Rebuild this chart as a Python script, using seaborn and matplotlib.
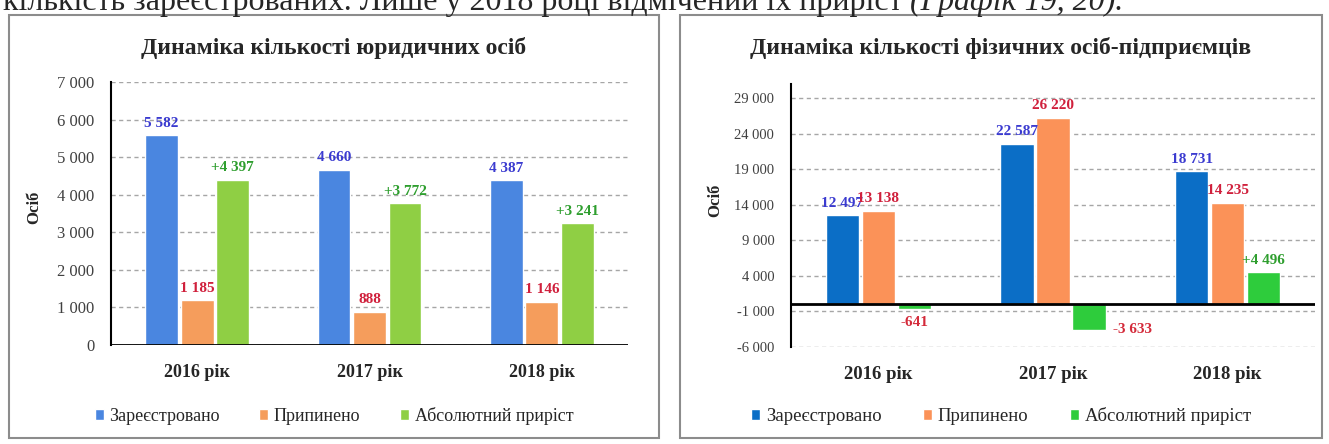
import seaborn as sns
import pandas as pd
import matplotlib.pyplot as plt
from matplotlib.patches import Rectangle
from matplotlib.ticker import FuncFormatter, MultipleLocator

sns.set_style("white")
plt.rcParams['font.family'] = ['Liberation Serif', 'DejaVu Serif']

# Дані
years = ["2016 рік", "2017 рік", "2018 рік"]
series = ["Зареєстровано", "Припинено", "Абсолютний приріст"]

legal_registered = [5582, 4660, 4387]
legal_stopped = [1185, 888, 1146]
legal_growth = [4397, 3772, 3241]

fop_registered = [12497, 22587, 18731]
fop_stopped = [13138, 26220, 14235]
fop_growth = [-641, -3633, 4496]


def make_df(reg, stop, grow):
    df = pd.DataFrame({'рік': years, series[0]: reg, series[1]: stop, series[2]: grow})
    return df.melt(id_vars='рік', var_name='показник', value_name='значення')


def fmt(v, sign=False):
    s = f"{abs(v):,.0f}".replace(",", " ")
    if v < 0:
        return "-" + s
    return ("+" + s) if sign else s


W, H = 1329, 444
fig = plt.figure(figsize=(W / 100, H / 100), dpi=100)

# рамки графіків
for x0, x1 in [(9, 659), (680, 1322)]:
    fig.patches.append(Rectangle((x0 / W, 1 - 438 / H), (x1 - x0) / W, (438 - 15) / H,
                                 transform=fig.transFigure, fill=False,
                                 edgecolor='#8c8c8c', lw=1.5, zorder=0))

# текст документа зверху (обрізаний, як на оригіналі)
t1 = fig.text(3 / W, 1 - 10 / H, "кількість зареєстрованих. Лише у 2018 році відмічений їх приріст ",
              fontsize=23, va='baseline', ha='left')
fig.canvas.draw()
bb = t1.get_window_extent()
fig.text(bb.x1 / W, 1 - 10 / H, "(Графік 19, 20).", fontsize=23, style='italic', va='baseline', ha='left')

label_colors = ['#3b3bd0', '#d0203c', '#2e9e2e']


def draw(ax, data, palette, ylim, step, title, box, fs):
    df = make_df(*data)
    sns.barplot(data=df, x='рік', y='значення', hue='показник', hue_order=series,
                palette=palette, width=0.62, gap=0.08, saturation=1, legend=False, ax=ax, zorder=3)
    ax.set_ylim(*ylim)
    ax.set_xlim(-0.5, 2.5)
    ax.yaxis.set_major_locator(MultipleLocator(step))
    ax.yaxis.set_major_formatter(FuncFormatter(lambda v, p: fmt(v)))
    ax.grid(axis='y', color='#a6a6a6', linestyle=(0, (3, 2.5)), lw=1, zorder=0)
    ax.set_xlabel("")
    ax.set_ylabel("")
    for s in ['top', 'right', 'bottom']:
        ax.spines[s].set_visible(False)
    ax.spines['left'].set_color('black')
    ax.spines['left'].set_linewidth(1.5)
    ax.axhline(0, color='black', lw=2, zorder=4)
    ax.tick_params(axis='y', length=0, labelsize=fs['ytick'], labelcolor='#404040', pad=12)
    ax.tick_params(axis='x', length=0, labelsize=fs['xtick'], pad=14)
    for lab in ax.get_xticklabels():
        lab.set_fontweight('bold')

    for i, cont in enumerate(ax.containers):
        for bar in cont:
            v = bar.get_height()
            cx = bar.get_x() + bar.get_width() / 2
            if v >= 0:
                ax.annotate(fmt(v, sign=(i == 2)), (cx, v), xytext=(0, 4), textcoords='offset points',
                            ha='center', va='bottom', fontsize=fs['value'], fontweight='bold',
                            color=label_colors[i])
            elif v < -1000:
                ax.annotate(fmt(v), (bar.get_x() + bar.get_width(), v), xytext=(5, 0),
                            textcoords='offset points', ha='left', va='center', fontsize=fs['value'],
                            fontweight='bold', color='#d42a3a')
            else:
                ax.annotate(fmt(v), (cx, v), xytext=(0, -5), textcoords='offset points',
                            ha='center', va='top', fontsize=fs['value'], fontweight='bold', color='#d42a3a')

    cxb = (box[0] + box[1]) / 2 / W
    fig.text(cxb, 1 - 48 / H, title, ha='center', va='center', fontsize=fs['title'], fontweight='bold')
    fig.legend(ax.containers, series, loc='center', bbox_to_anchor=(cxb, 1 - 416 / H), ncol=3,
               frameon=False, fontsize=fs['legend'], handlelength=0.5, handleheight=0.5,
               handletextpad=0.3, columnspacing=2.2)


ax1 = fig.add_axes([111 / W, 1 - 345 / H, (628 - 111) / W, (345 - 82) / H])
draw(ax1, (legal_registered, legal_stopped, legal_growth), ['#4a86e0', '#f59d5c', '#8fcf44'],
     (0, 7000), 1000, "Динаміка кількості юридичних осіб", (9, 659),
     dict(ytick=12, xtick=13, value=11, legend=13, title=17))
fig.text(34 / W, 1 - 207 / H, "Осіб", rotation=90, ha='center', va='center', fontsize=12, fontweight='bold')

ax2 = fig.add_axes([791 / W, 1 - 347 / H, (1315 - 791) / W, (347 - 84) / H])
draw(ax2, (fop_registered, fop_stopped, fop_growth), ['#0b6ec6', '#fb9258', '#2ecc3c'],
     (-6050, 31000), 5000, "Динаміка кількості фізичних осіб-підприємців", (680, 1322),
     dict(ytick=10.5, xtick=13.5, value=11, legend=13.5, title=17))
ax2.set_yticks(range(-6000, 29001, 5000))
fig.text(715 / W, 1 - 200 / H, "Осіб", rotation=90, ha='center', va='center', fontsize=12, fontweight='bold')

fig.savefig("out.png", dpi=100)
